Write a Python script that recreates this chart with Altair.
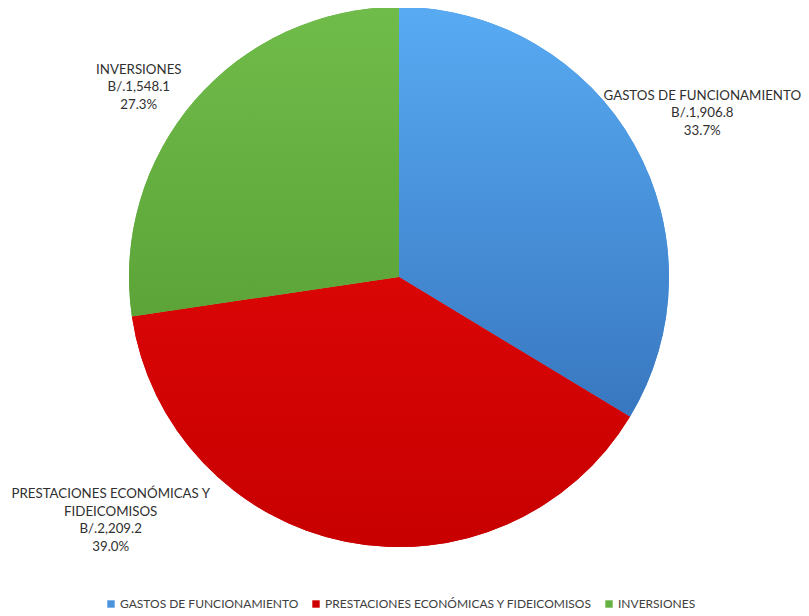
import altair as alt
import pandas as pd

categories = ["GASTOS DE FUNCIONAMIENTO", "PRESTACIONES ECONÓMICAS Y FIDEICOMISOS", "INVERSIONES"]
values = [1906.8, 2209.2, 1548.1]
percents = ["33.7%", "39.0%", "27.3%"]
amount_labels = ["B/.1,906.8", "B/.2,209.2", "B/.1,548.1"]
label_lines = [
    ["GASTOS DE FUNCIONAMIENTO", "B/.1,906.8", "33.7%"],
    ["PRESTACIONES ECONÓMICAS Y", "FIDEICOMISOS", "B/.2,209.2", "39.0%"],
    ["INVERSIONES", "B/.1,548.1", "27.3%"],
]
colors = ["#4A93DD", "#D00000", "#66B143"]
gradients = [
    ("#58ABF3", "#3877C0"),
    ("#DA0606", "#C80000"),
    ("#70BC4A", "#5CA438"),
]

total = sum(values)
df = pd.DataFrame({
    "cat": categories,
    "value": values,
    "idx": list(range(len(categories))),
    "label": ["\n".join(l) for l in label_lines],
})

CX, CY, R = 391, 269, 270

base = alt.Chart(df).transform_window(
    cum="sum(value)", sort=[{"field": "idx"}]
).transform_calculate(
    start="datum.cum - datum.value",
    mid="datum.cum - datum.value / 2",
)

theta_scale = alt.Scale(domain=[0, total])

legend_layer = base.mark_arc(outerRadius=R).encode(
    theta=alt.Theta("start:Q", scale=theta_scale),
    theta2="cum:Q",
    x=alt.value(CX), y=alt.value(CY),
    color=alt.Color(
        "cat:N",
        scale=alt.Scale(domain=categories, range=colors),
        sort=categories,
        legend=alt.Legend(
            title=None, orient="none", direction="horizontal",
            legendX=97, legendY=590,
            symbolType="square", symbolSize=55, symbolStrokeWidth=0,
            labelFont="Lato", labelFontSize=12, labelColor="#404040",
            labelLimit=0,
            columnPadding=11, symbolOffset=0, labelOffset=3,
        ),
    ),
)

layers = [legend_layer]
for cat, (c1, c2) in zip(categories, gradients):
    grad = {
        "gradient": "linear", "x1": 0, "y1": 0, "x2": 0, "y2": 1,
        "stops": [{"offset": 0, "color": c1}, {"offset": 1, "color": c2}],
    }
    layers.append(
        base.transform_filter(alt.datum.cat == cat).mark_arc(
            outerRadius=R, color=grad
        ).encode(
            theta=alt.Theta("start:Q", scale=theta_scale),
            theta2="cum:Q",
            x=alt.value(CX), y=alt.value(CY),
        )
    )

offsets = [(1, -11), (-229, -77), (-18, 2)]
label_radius = [347, 300, 320]
for cat, (dx, dy), rr in zip(categories, offsets, label_radius):
    layers.append(
        base.transform_filter(alt.datum.cat == cat).mark_text(
            radius=rr, dx=dx, dy=dy, align="center", baseline="middle",
            lineBreak="\n", lineHeight=17.5, font="Lato", fontSize=13.3,
            color="#303030",
        ).encode(
            theta=alt.Theta("mid:Q", scale=theta_scale),
            x=alt.value(CX), y=alt.value(CY),
            text="label:N",
        )
    )

chart = alt.layer(*layers).properties(
    width=793, height=606, padding=0, autosize="none", background="white"
).configure_view(stroke=None)

chart.save("out.html", embed_options={"renderer": "svg", "actions": False})
